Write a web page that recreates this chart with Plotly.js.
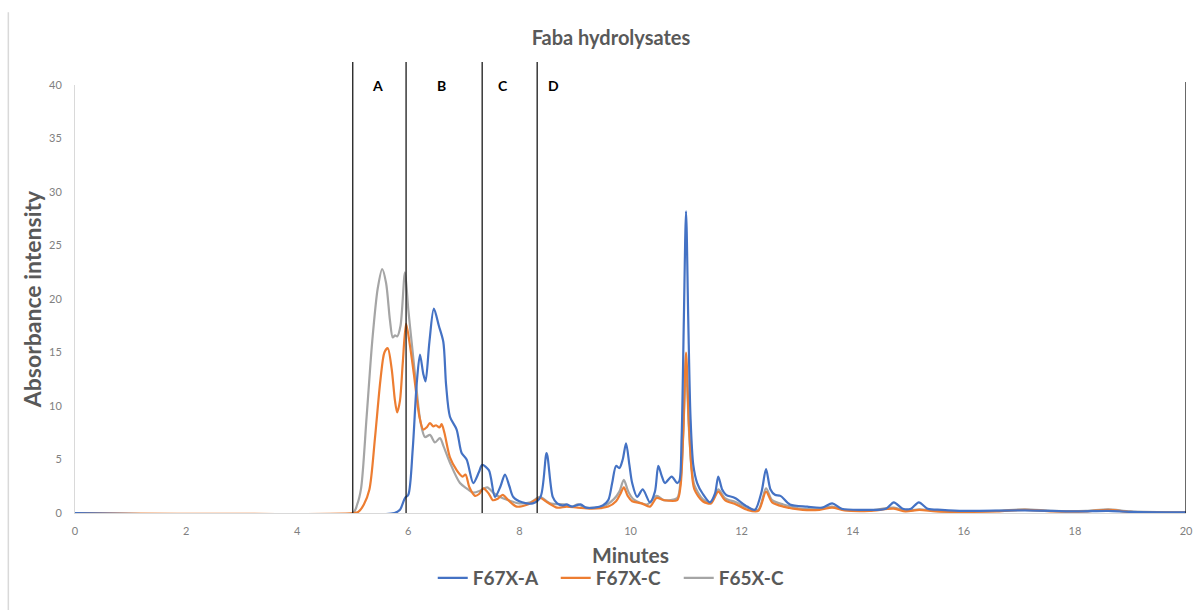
<!DOCTYPE html>
<html>
<head>
<meta charset="utf-8">
<script src="https://cdn.plot.ly/plotly-3.0.1.min.js"></script>
<style>html,body{margin:0;padding:0;background:#fff;}#chart{width:1198px;height:610px;}</style>
</head>
<body>
<div id="chart"></div>
<script>
// ---- data ----
var seriesNames = ["F67X-A", "F67X-C", "F65X-C"];

var minutesA = [0,5.75,5.85,5.94,6.0,6.08,6.15,6.21,6.27,6.31,6.38,6.46,6.55,6.63,6.68,6.75,6.87,6.96,7.05,7.17,7.27,7.33,7.45,7.56,7.66,7.74,7.82,7.89,8.05,8.24,8.38,8.49,8.6,8.68,8.78,8.85,8.95,9.1,9.2,9.35,9.5,9.6,9.67,9.74,9.8,9.86,9.92,9.98,10.03,10.12,10.22,10.35,10.44,10.5,10.56,10.62,10.74,10.84,10.88,10.92,10.96,11.0,11.04,11.08,11.13,11.2,11.3,11.43,11.52,11.58,11.65,11.72,11.88,12.1,12.24,12.36,12.44,12.52,12.6,12.7,12.87,13.18,13.45,13.63,13.8,14.2,14.6,14.74,14.9,15.05,15.19,15.35,15.6,16,17.1,18,18.6,19,20];
var valuesA = [0,0,0.3,1.4,1.7,6,12,14.8,13,12.3,16,19.1,17.5,16.0,12,9.0,7.8,5.6,5.0,2.8,3.8,4.5,4.0,1.5,2.5,3.6,2.5,1.5,1.0,0.9,1.5,5.6,1.5,0.9,0.7,0.8,0.6,0.8,0.5,0.5,0.7,1.2,2.8,4.4,4.2,5.0,6.5,4.5,2.8,1.5,2.2,1.0,2.0,4.4,3.5,2.8,3.4,2.8,3.0,7,18,28.2,18,9,4.5,2.8,1.8,1.0,1.8,3.4,2.2,1.7,1.4,0.6,0.3,2.0,4.1,2.2,1.7,1.6,0.8,0.6,0.5,0.9,0.4,0.3,0.4,1.0,0.4,0.4,1.0,0.4,0.3,0.2,0.25,0.15,0.2,0.1,0.05];

var minutesC = [0,5.02,5.1,5.2,5.3,5.4,5.5,5.57,5.63,5.7,5.76,5.8,5.85,5.9,5.96,6.02,6.1,6.2,6.27,6.33,6.39,6.45,6.5,6.56,6.6,6.65,6.75,6.87,6.93,6.98,7.03,7.1,7.2,7.28,7.35,7.45,7.52,7.6,7.7,7.8,7.95,8.15,8.37,8.5,8.68,8.85,9.05,9.3,9.6,9.74,9.82,9.88,9.95,10.03,10.2,10.35,10.47,10.6,10.84,10.9,10.95,11.0,11.05,11.1,11.15,11.3,11.45,11.58,11.7,11.9,12.1,12.3,12.44,12.55,12.75,13.1,13.4,13.63,13.85,14.3,14.74,14.95,15.2,15.5,16,16.6,17.1,17.6,18.2,18.6,19,20];
var valuesC = [0,0,0.1,0.8,2.2,7,12.5,15,15.4,13.5,10.5,9.4,10.5,14,17.7,16,13,9,7.8,8.0,8.4,8.1,8.2,8.0,8.3,7.5,5.2,4.0,3.6,3.4,3.6,2.4,1.6,1.8,2.3,1.8,1.2,1.3,1.7,1.2,0.6,0.8,1.4,1.0,0.5,0.6,0.5,0.4,0.6,1.1,1.8,2.4,1.6,1.1,0.9,0.6,1.4,1.2,1.2,2.5,7.5,15.0,8.5,4.0,2.2,1.1,0.9,2.0,1.2,0.8,0.3,0.2,2.0,1.0,0.6,0.3,0.3,0.5,0.25,0.2,0.4,0.15,0.3,0.15,0.1,0.15,0.3,0.15,0.15,0.3,0.1,0.05];

var minutesG = [0,5.0,5.08,5.15,5.25,5.35,5.45,5.53,5.6,5.67,5.72,5.76,5.8,5.86,5.94,6.0,6.06,6.15,6.22,6.3,6.39,6.48,6.57,6.63,6.75,6.93,7.05,7.17,7.3,7.42,7.55,7.65,7.8,8.0,8.2,8.37,8.55,8.8,8.95,9.05,9.2,9.5,9.7,9.8,9.88,9.96,10.05,10.3,10.47,10.6,10.84,10.9,10.95,11.0,11.05,11.1,11.15,11.3,11.45,11.58,11.7,11.9,12.1,12.3,12.44,12.55,12.75,13.1,13.4,13.63,13.85,14.3,14.74,14.95,15.2,15.5,16,16.6,17.1,17.6,18.2,18.6,19,20];
var valuesG = [0,0,0.8,2.3,9,16,21,22.8,21.5,18,16.4,16.6,16.5,17.5,22.5,19,16,11.5,8.5,7.1,7.3,6.6,7.0,6.3,4.7,2.8,2.3,1.9,2.1,2.4,1.8,1.5,1.2,0.9,1.0,1.5,0.9,0.8,0.6,0.8,0.5,0.6,1.3,2.0,3.1,2.0,1.3,0.8,1.6,1.2,1.4,3,7.5,13.6,8,4.2,2.6,1.3,1.0,2.2,1.4,1.0,0.5,0.3,2.3,1.2,0.8,0.4,0.4,0.6,0.3,0.25,0.5,0.2,0.35,0.2,0.15,0.2,0.35,0.2,0.2,0.35,0.15,0.05];

var fractionBounds = [5, 5.96, 7.33, 8.32];
var rangeEnd = 20;
var fractionLabels = ["A", "B", "C", "D"];
var fractionLabelX = [5.45, 6.59, 7.7, 8.62];

// ---- chart ----
var colors = ["#4472C4", "#ED7D31", "#A5A5A5"];
var xs = [minutesA, minutesC, minutesG];
var ys = [valuesA, valuesC, valuesG];
var traces = [];
// draw gray first, blue last; legend reversed to keep A, C, G order
for (var i = 2; i >= 0; i--) {
  traces.push({
    x: xs[i], y: ys[i], name: seriesNames[i], type: "scatter", mode: "lines",
    line: {color: colors[i], width: 2.2, shape: "spline", smoothing: 0.8}
  });
}

var shapes = [];
fractionBounds.forEach(function (b) {
  shapes.push({type: "line", xref: "x", yref: "paper", x0: b, x1: b, y0: 0, y1: 1.054,
    line: {color: "#1a1a1a", width: 1.3}});
});
shapes.push({type: "line", xref: "x", yref: "paper", x0: rangeEnd, x1: rangeEnd, y0: 0, y1: 1.007,
  line: {color: "#1a1a1a", width: 1.3}});
// chart frame on the left
shapes.push({type: "line", xref: "paper", yref: "paper", x0: -0.06, x1: -0.06, y0: -0.23, y1: 1.17,
  line: {color: "#d9d9d9", width: 1.5}});

var annotations = fractionLabels.map(function (t, k) {
  return {text: t, x: fractionLabelX[k], xref: "x", y: 1.023, yref: "paper",
    showarrow: false, font: {family: "Lato, 'Open Sans', sans-serif", size: 14, color: "#000", weight: "bold"}};
});

var layout = {
  width: 1198, height: 610,
  paper_bgcolor: "#fff", plot_bgcolor: "#fff",
  margin: {l: 75, r: 12, t: 85, b: 97},
  font: {family: "Lato, 'Open Sans', sans-serif", color: "#595959"},
  title: {text: "<b>Faba hydrolysates</b>", x: 0.51, xanchor: "center", y: 0.938, yanchor: "middle",
    font: {size: 20, color: "#595959"}},
  xaxis: {range: [0, 20], dtick: 2, tick0: 0, showgrid: false, zeroline: false,
    showline: true, linecolor: "#d9d9d9", linewidth: 1, ticks: "", ticklabelstandoff: 8,
    tickfont: {size: 11, color: "#808080"},
    title: {text: "<b>Minutes</b>", font: {size: 21, color: "#595959"}, standoff: 12}},
  yaxis: {range: [0, 40], dtick: 5, showgrid: false, zeroline: false,
    showline: true, linecolor: "#d9d9d9", linewidth: 1, ticks: "", ticklabelstandoff: 10,
    tickfont: {size: 11, color: "#808080"},
    title: {text: "<b>Absorbance intensity</b>", font: {size: 23, color: "#595959"}, standoff: 0}},
  showlegend: true,
  legend: {orientation: "h", traceorder: "reversed", x: 0.322, xanchor: "left", y: -0.152, yanchor: "middle",
    font: {size: 19, color: "#595959", weight: "bold"}, itemwidth: 30, tracegroupgap: 0,
    entrywidth: 78, entrywidthmode: "pixels"},
  shapes: shapes,
  annotations: annotations
};

Plotly.newPlot("chart", traces, layout, {displayModeBar: false, staticPlot: true});
</script>
</body>
</html>
